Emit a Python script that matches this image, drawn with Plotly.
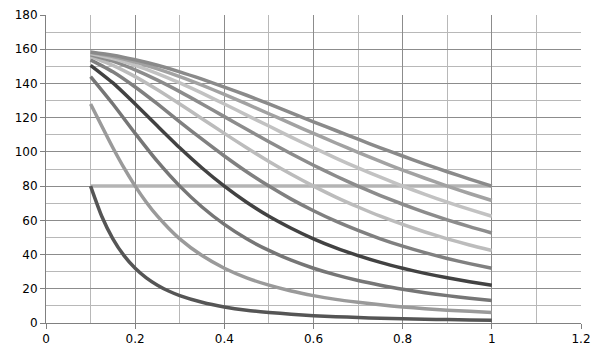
import plotly.graph_objects as go

x_vals = [0.10, 0.15, 0.20, 0.25, 0.30, 0.35, 0.40, 0.45, 0.50, 0.55,
          0.60, 0.65, 0.70, 0.75, 0.80, 0.85, 0.90, 0.95, 1.00]
x_fast = [0.100, 0.125, 0.150, 0.175, 0.200, 0.225, 0.250, 0.275, 0.30, 0.35,
          0.40, 0.45, 0.50, 0.55, 0.60, 0.65, 0.70, 0.75, 0.80, 0.85, 0.90, 0.95, 1.00]

flat = [80] * 19

s01 = [80, 62.4, 49.2, 39.4, 32, 26.4, 22.1, 18.7, 16, 12.1, 9.4, 7.5, 6.2, 5.1, 4.3, 3.7, 3.2, 2.8, 2.5, 2.2, 2.0, 1.8, 1.6]
s02 = [128, 115.1, 102.4, 90.6, 80, 70.6, 62.4, 55.4, 49.2, 39.4, 32, 26.4, 22.1, 18.7, 16, 13.8, 12.1, 10.6, 9.4, 8.4, 7.5, 6.8, 6.2]
s03 = [144, 128, 110.8, 94.4, 80, 67.8, 57.6, 49.2, 42.4, 36.7, 32, 28.1, 24.8, 22.1, 19.7, 17.7, 16, 14.5, 13.2]
s04 = [150.6, 140.3, 128, 115.1, 102.4, 90.6, 80, 70.6, 62.4, 55.4, 49.2, 43.9, 39.4, 35.4, 32, 29.0, 26.4, 24.1, 22.1]
s05 = [153.8, 146.8, 137.9, 128, 117.6, 107.4, 97.6, 88.4, 80, 72.4, 65.6, 59.5, 54.1, 49.2, 44.9, 41.1, 37.7, 34.7, 32]
s06 = [155.7, 150.6, 144, 136.3, 128, 119.4, 110.8, 102.4, 94.4, 86.9, 80, 73.6, 67.8, 62.4, 57.6, 53.2, 49.2, 45.6, 42.4]
s07 = [156.8, 153.0, 147.9, 141.9, 135.2, 128, 120.6, 113.2, 105.9, 98.9, 92.2, 85.9, 80, 74.5, 69.4, 64.7, 60.3, 56.3, 52.6]
s08 = [157.5, 154.6, 150.6, 145.8, 140.3, 134.3, 128, 121.5, 115.1, 108.6, 102.4, 96.4, 90.6, 85.2, 80, 75.2, 70.6, 66.4, 62.4]
s09 = [158.0, 155.7, 152.5, 148.5, 144, 139.0, 133.6, 128, 122.3, 116.5, 110.8, 105.2, 99.7, 94.4, 89.4, 84.6, 80, 75.7, 71.6]
s10 = [158.4, 156.5, 153.8, 150.6, 146.8, 142.5, 137.9, 133.1, 128, 122.8, 117.6, 112.5, 107.4, 102.4, 97.6, 92.9, 88.4, 84.1, 80]

series = [
    ("flat", x_vals, flat, "#b4b4b4"),
    ("s01", x_fast, s01, "#555555"),
    ("s02", x_fast, s02, "#9a9a9a"),
    ("s03", x_vals, s03, "#767676"),
    ("s04", x_vals, s04, "#424242"),
    ("s05", x_vals, s05, "#808080"),
    ("s06", x_vals, s06, "#bcbcbc"),
    ("s07", x_vals, s07, "#8c8c8c"),
    ("s08", x_vals, s08, "#c2c2c2"),
    ("s09", x_vals, s09, "#a2a2a2"),
    ("s10", x_vals, s10, "#8a8a8a"),
]

x_ticks = [0, 0.2, 0.4, 0.6, 0.8, 1, 1.2]
x_tick_text = ["0", "0.2", "0.4", "0.6", "0.8", "1", "1.2"]
y_ticks = [0, 20, 40, 60, 80, 100, 120, 140, 160, 180]

fig = go.Figure()
for name, xs, ys, col in series:
    fig.add_trace(go.Scatter(
        x=xs, y=ys, mode="lines", name=name,
        line=dict(color=col, width=3.5, shape="spline", smoothing=0.6),
        showlegend=False, hoverinfo="skip"))

# page body has an 8px default margin, so margins are offset to place the plot area
fig.update_layout(
    width=603, height=355,
    margin=dict(l=38, r=30, t=7, b=40, autoexpand=False),
    paper_bgcolor="white", plot_bgcolor="white",
    font=dict(family="DejaVu Sans", size=12, color="black"),
    showlegend=False,
)
fig.update_xaxes(
    range=[0, 1.2], tickvals=x_ticks, ticktext=x_tick_text,
    automargin=False,
    showgrid=True, gridcolor="#8c8c8c", gridwidth=1,
    minor=dict(dtick=0.1, showgrid=True, gridcolor="#b8b8b8", gridwidth=1),
    showline=True, linecolor="#808080", linewidth=1,
    ticks="outside", ticklen=5, tickcolor="#808080",
    tickfont=dict(color="black"),
    zeroline=False, mirror=False,
)
fig.update_yaxes(
    range=[0, 180], tickvals=y_ticks,
    automargin=False,
    showgrid=True, gridcolor="#8c8c8c", gridwidth=1,
    minor=dict(dtick=10, showgrid=True, gridcolor="#b8b8b8", gridwidth=1),
    showline=True, linecolor="#808080", linewidth=1,
    ticks="outside", ticklen=5, tickcolor="#808080",
    tickfont=dict(color="black"),
    zeroline=False,
)

fig.write_html("out.html")
